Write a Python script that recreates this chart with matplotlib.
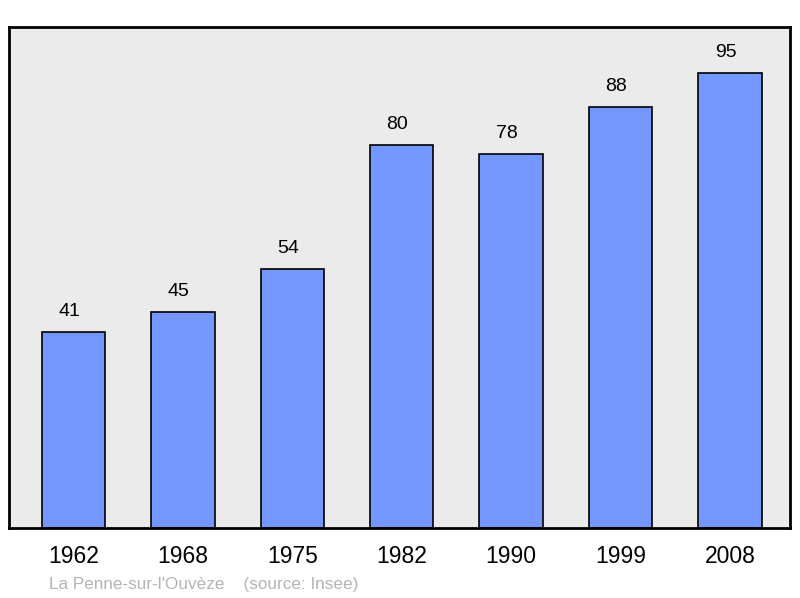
import matplotlib
matplotlib.use('Agg')
import matplotlib.pyplot as plt

# population by census year
years = ['1962', '1968', '1975', '1982', '1990', '1999', '2008']
population = [41, 45, 54, 80, 78, 88, 95]

plt.rcParams['font.family'] = ['Liberation Sans', 'DejaVu Sans']

fig = plt.figure(figsize=(8, 5.98), dpi=100)
ax = fig.add_axes([9 / 800, 70 / 598, 781 / 800, 501 / 598])
ax.set_facecolor('#ebebeb')

x = range(len(years))
bars = ax.bar(x, population, width=0.58, color='#7396ff',
              edgecolor='black', linewidth=1.2)
for xi, v in zip(x, population):
    ax.text(xi - 0.04, v + 2.5, str(v), ha='center', va='bottom', fontsize=14)

ax.set_xlim(-0.59, 6.55)
ax.set_ylim(0, 104.6)
ax.set_yticks([])
ax.set_xticks(list(x))
ax.set_xticklabels(years, fontsize=16.5)
ax.tick_params(axis='x', length=0, pad=12)
for s in ax.spines.values():
    s.set_linewidth(2)
    s.set_color('black')

fig.text(49 / 800, 1 - 584 / 598, "La Penne-sur-l'Ouvèze    (source: Insee)",
         fontsize=12.3, color='#b4b4b4', va='center', ha='left')

fig.savefig('out.png', dpi=100)
